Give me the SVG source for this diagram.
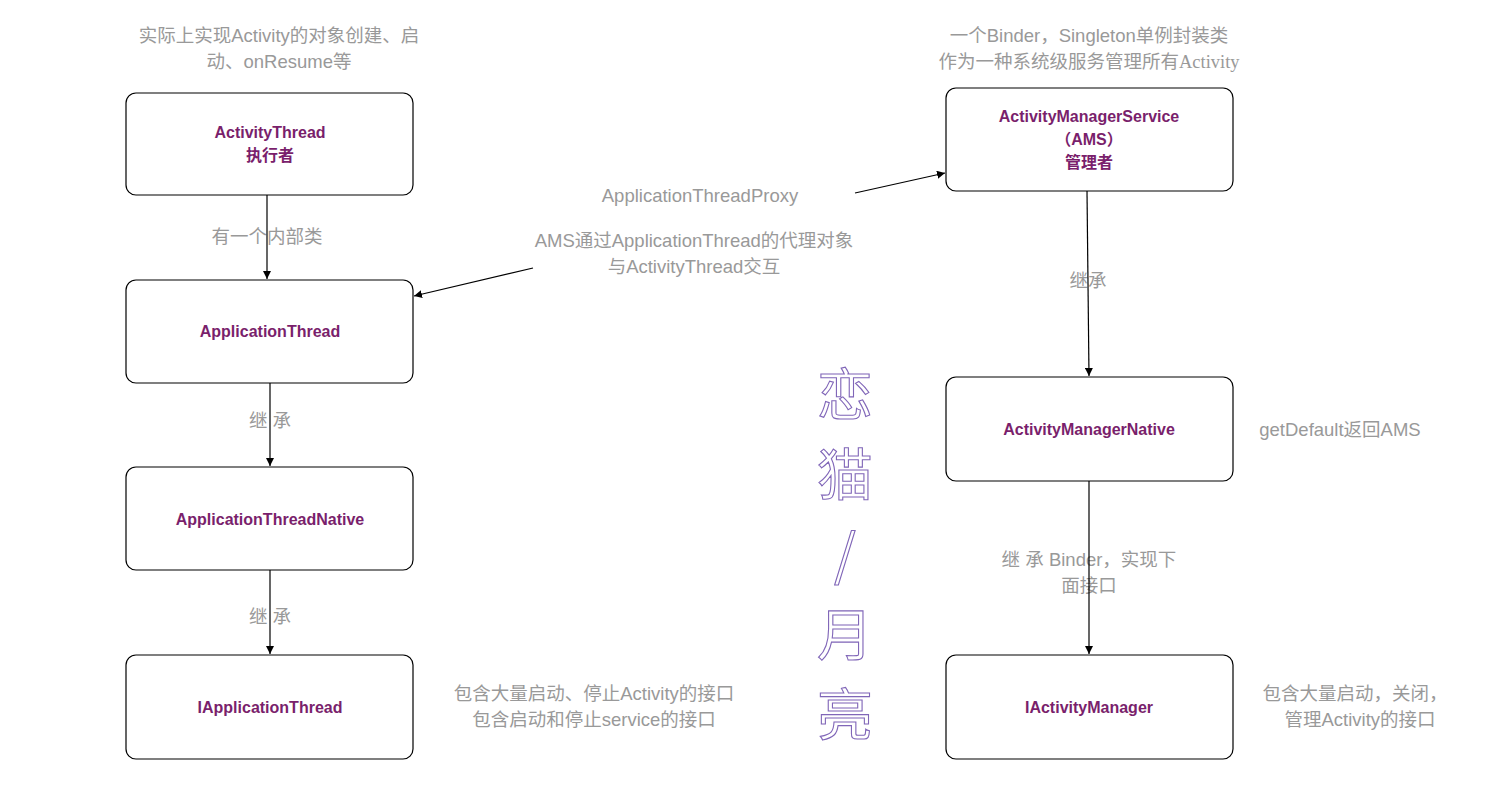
<svg xmlns="http://www.w3.org/2000/svg" width="1500" height="797" viewBox="0 0 1500 797">
<style>
.box{fill:#fff;stroke:#000;stroke-width:1.2}
.t{font-family:"Liberation Sans","Noto Sans CJK SC",sans-serif;font-size:18.5px;fill:#999;text-anchor:middle}
.n{font-family:"Liberation Sans","Noto Sans CJK SC",sans-serif;font-size:16px;font-weight:bold;fill:#7a1f6c;text-anchor:middle}
.c{fill:none;stroke:#000;stroke-width:1.2}
.wm{font-family:"Noto Sans CJK SC",sans-serif;font-size:56px;fill:#fff;stroke:#8066b8;stroke-width:1.1;text-anchor:middle}
</style>
<defs>
<marker id="a" viewBox="0 0 10 10" refX="10" refY="5" markerWidth="8" markerHeight="8" markerUnits="userSpaceOnUse" orient="auto">
<path d="M0,0 L10,5 L0,10 z" fill="#000"/>
</marker>
</defs>
<rect width="1500" height="797" fill="#fff"/>

<g id="annotations">
<text class="t" x="279" y="42">实际上实现Activity的对象创建、启</text>
<text class="t" x="279" y="68">动、onResume等</text>
<text class="t" x="1089" y="42">一个Binder，Singleton单例封装类</text>
<text class="t" x="1089" y="68">作为一种系统级服务管理所有<tspan font-family="Liberation Serif,serif">Activity</tspan></text>
<text class="t" x="700" y="202">ApplicationThreadProxy</text>
<text class="t" x="694" y="247">AMS通过ApplicationThread的代理对象</text>
<text class="t" x="694" y="273">与ActivityThread交互</text>
<text class="t" x="267" y="243">有一个内部类</text>
<text class="t" x="270" y="427">继 承</text>
<text class="t" x="270" y="623">继 承</text>
<text class="t" x="1088" y="287">继承</text>
<text class="t" x="1089" y="566">继 承 Binder，实现下</text>
<text class="t" x="1089" y="592">面接口</text>
<text class="t" x="1340" y="436">getDefault返回AMS</text>
<text class="t" x="594" y="700">包含大量启动、停止Activity的接口</text>
<text class="t" x="594" y="726">包含启动和停止service的接口</text>
<text class="t" x="1355" y="700">包含大量启动，关闭，</text>
<text class="t" x="1360" y="726">管理Activity的接口</text>
</g>

<g id="watermark">
<text class="wm" x="845" y="415">恋</text>
<text class="wm" x="845" y="495">猫</text>
<text class="wm" x="845" y="575">/</text>
<text class="wm" x="845" y="655">月</text>
<text class="wm" x="845" y="735">亮</text>
</g>

<g id="connectors">
<line class="c" x1="267" y1="195" x2="267" y2="279" marker-end="url(#a)"/>
<line class="c" x1="270" y1="383" x2="270" y2="466" marker-end="url(#a)"/>
<line class="c" x1="270" y1="570" x2="270" y2="654" marker-end="url(#a)"/>
<line class="c" x1="1087" y1="191" x2="1089" y2="376" marker-end="url(#a)"/>
<line class="c" x1="1089" y1="481" x2="1089" y2="654" marker-end="url(#a)"/>
<line class="c" x1="855" y1="193" x2="945" y2="173" marker-end="url(#a)"/>
<line class="c" x1="533" y1="268" x2="414" y2="296" marker-end="url(#a)"/>
</g>

<g id="ActivityThread">
<rect class="box" x="126" y="93" width="287" height="102" rx="10"/>
<text class="n" x="270" y="138">ActivityThread</text>
<text class="n" x="270" y="161">执行者</text>
</g>
<g id="ApplicationThread">
<rect class="box" x="126" y="280" width="287" height="103" rx="10"/>
<text class="n" x="270" y="337">ApplicationThread</text>
</g>
<g id="ApplicationThreadNative">
<rect class="box" x="126" y="467" width="287" height="103" rx="10"/>
<text class="n" x="270" y="525">ApplicationThreadNative</text>
</g>
<g id="IApplicationThread">
<rect class="box" x="126" y="655" width="287" height="104" rx="10"/>
<text class="n" x="270" y="713">IApplicationThread</text>
</g>
<g id="ActivityManagerService">
<rect class="box" x="946" y="88" width="287" height="103" rx="10"/>
<text class="n" x="1089" y="122">ActivityManagerService</text>
<text class="n" x="1089" y="145">（AMS）</text>
<text class="n" x="1089" y="168">管理者</text>
</g>
<g id="ActivityManagerNative">
<rect class="box" x="946" y="377" width="287" height="104" rx="10"/>
<text class="n" x="1089" y="435">ActivityManagerNative</text>
</g>
<g id="IActivityManager">
<rect class="box" x="946" y="655" width="287" height="104" rx="10"/>
<text class="n" x="1089" y="713">IActivityManager</text>
</g>
</svg>
